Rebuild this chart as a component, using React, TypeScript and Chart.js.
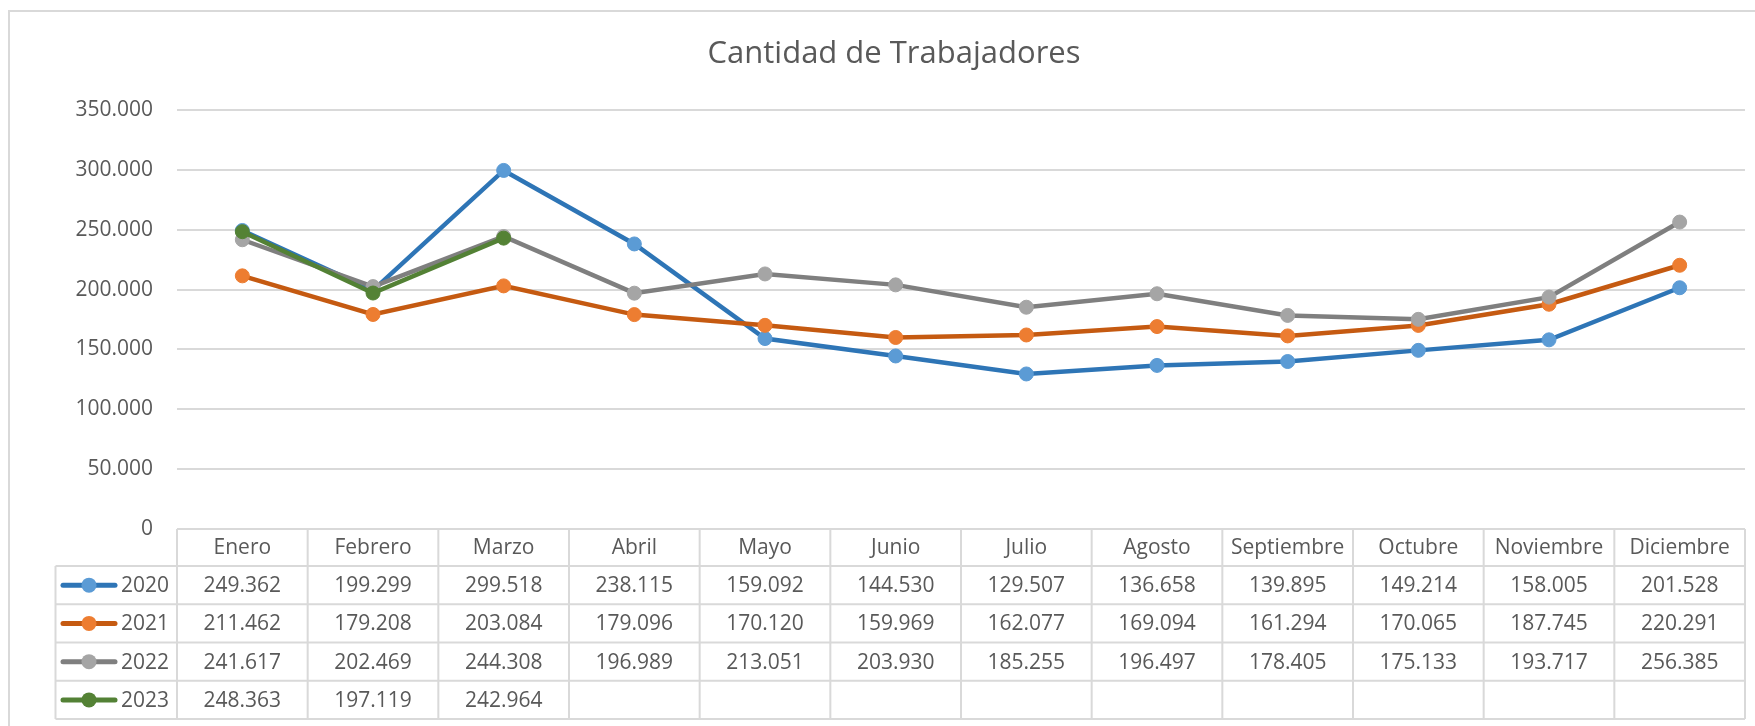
import React, { useEffect, useRef } from "react";
import { Chart, registerables } from "chart.js";

Chart.register(...registerables);

const chartTitle = "Cantidad de Trabajadores";
const months = [
  "Enero", "Febrero", "Marzo", "Abril", "Mayo", "Junio",
  "Julio", "Agosto", "Septiembre", "Octubre", "Noviembre", "Diciembre",
];
const seriesNames = ["2020", "2021", "2022", "2023"];
const values2020 = [249362, 199299, 299518, 238115, 159092, 144530, 129507, 136658, 139895, 149214, 158005, 201528];
const values2021 = [211462, 179208, 203084, 179096, 170120, 159969, 162077, 169094, 161294, 170065, 187745, 220291];
const values2022 = [241617, 202469, 244308, 196989, 213051, 203930, 185255, 196497, 178405, 175133, 193717, 256385];
const values2023 = [248363, 197119, 242964, null, null, null, null, null, null, null, null, null];
const yMax = 350000;
const yStep = 50000;

const lineColors = ["#2E75B6", "#C55A11", "#7F7F7F", "#538135"];
const markerColors = ["#5B9BD5", "#ED7D31", "#A5A5A5", "#548235"];
const textColor = "#595959";
const gridColor = "#d9d9d9";
const FONT = "'Open Sans'";

const fmt = (n: number | null) =>
  n === null || n === undefined ? "" : String(n).replace(/\B(?=(\d{3})+(?!\d))/g, ".");

const allSeries = [values2020, values2021, values2022, values2023];

const frame = {
  id: "frame",
  beforeDraw(chart: any) {
    const ctx = chart.ctx;
    ctx.save();
    ctx.fillStyle = "#ffffff";
    ctx.fillRect(0, 0, chart.width, chart.height);
    ctx.strokeStyle = gridColor;
    ctx.lineWidth = 2;
    ctx.strokeRect(9, 11, 1800, 800);
    ctx.fillStyle = textColor;
    ctx.font = `31px ${FONT}`;
    ctx.textAlign = "center";
    ctx.textBaseline = "alphabetic";
    ctx.fillText(chartTitle, 894, 63);
    ctx.restore();
  },
};

const dataTable = {
  id: "dataTable",
  afterDraw(chart: any) {
    const ctx = chart.ctx;
    const xs = chart.scales.x;
    const area = chart.chartArea;
    const half = (xs.getPixelForValue(1) - xs.getPixelForValue(0)) / 2;
    const headerTop = area.bottom;
    const headerBottom = headerTop + 37;
    const rowH = 38.25;
    const bottom = headerBottom + rowH * seriesNames.length;
    const legendLeft = 55.5;
    ctx.save();
    ctx.strokeStyle = gridColor;
    ctx.lineWidth = 2;
    ctx.beginPath();
    ctx.moveTo(area.left, headerTop);
    ctx.lineTo(area.right, headerTop);
    for (let r = 0; r <= seriesNames.length; r++) {
      const y = headerBottom + r * rowH;
      ctx.moveTo(legendLeft, y);
      ctx.lineTo(area.right, y);
    }
    ctx.moveTo(legendLeft, headerBottom);
    ctx.lineTo(legendLeft, bottom);
    for (let k = 0; k <= months.length; k++) {
      const x = k < months.length ? xs.getPixelForValue(k) - half : xs.getPixelForValue(k - 1) + half;
      ctx.moveTo(x, headerTop);
      ctx.lineTo(x, bottom);
    }
    ctx.stroke();

    ctx.fillStyle = textColor;
    ctx.font = `21px ${FONT}`;
    ctx.textAlign = "center";
    ctx.textBaseline = "middle";
    months.forEach((m, i) => {
      ctx.fillText(m, xs.getPixelForValue(i), headerTop + 19);
    });
    allSeries.forEach((vals, r) => {
      const yc = headerBottom + r * rowH + rowH / 2 + 1;
      vals.forEach((v, i) => {
        ctx.fillText(fmt(v), xs.getPixelForValue(i), yc);
      });
    });
    // legend keys
    seriesNames.forEach((name, r) => {
      const yc = headerBottom + r * rowH + rowH / 2;
      ctx.strokeStyle = lineColors[r];
      ctx.lineWidth = 5;
      ctx.lineCap = "round";
      ctx.beginPath();
      ctx.moveTo(63, yc);
      ctx.lineTo(115, yc);
      ctx.stroke();
      ctx.fillStyle = markerColors[r];
      ctx.beginPath();
      ctx.arc(89, yc, 7.5, 0, Math.PI * 2);
      ctx.fill();
      ctx.fillStyle = textColor;
      ctx.textAlign = "left";
      ctx.fillText(name, 121, yc + 1);
    });
    ctx.restore();
  },
};

export default function App() {
  const ref = useRef<HTMLCanvasElement | null>(null);
  useEffect(() => {
    if (!ref.current) return;
    const chart = new Chart(ref.current, {
      type: "line",
      data: {
        labels: months,
        datasets: allSeries.map((vals, i) => ({
          label: seriesNames[i],
          data: vals,
          borderColor: lineColors[i],
          backgroundColor: markerColors[i],
          borderWidth: 4.5,
          pointRadius: 7,
          pointBorderWidth: 1,
          pointBorderColor: markerColors[i],
          pointBackgroundColor: markerColors[i],
          order: seriesNames.length - 1 - i,
          spanGaps: false,
          tension: 0,
        })),
      },
      options: {
        responsive: false,
        animation: false,
        devicePixelRatio: 1,
        layout: { padding: { left: 0, top: 110, right: 10, bottom: 197 } },
        plugins: {
          legend: { display: false },
          title: { display: false },
          tooltip: { enabled: false },
        },
        scales: {
          x: {
            type: "category",
            display: false,
            offset: true,
          },
          y: {
            min: 0,
            max: yMax,
            afterFit(scale: any) {
              scale.width = 177;
            },
            ticks: {
              stepSize: yStep,
              padding: 24,
              color: textColor,
              font: { family: FONT, size: 21 },
              callback: (v: any) => fmt(Number(v)),
            },
            grid: {
              color: gridColor,
              lineWidth: 2,
              drawTicks: false,
            },
            border: { display: false },
          },
        },
      },
      plugins: [frame, dataTable],
    });
    return () => chart.destroy();
  }, []);
  return (
    <div style={{ position: "absolute", left: 0, top: 0, width: 1755, height: 726, overflow: "hidden", background: "#fff" }}>
      <canvas ref={ref} width={1755} height={726} style={{ display: "block" }} />
    </div>
  );
}
